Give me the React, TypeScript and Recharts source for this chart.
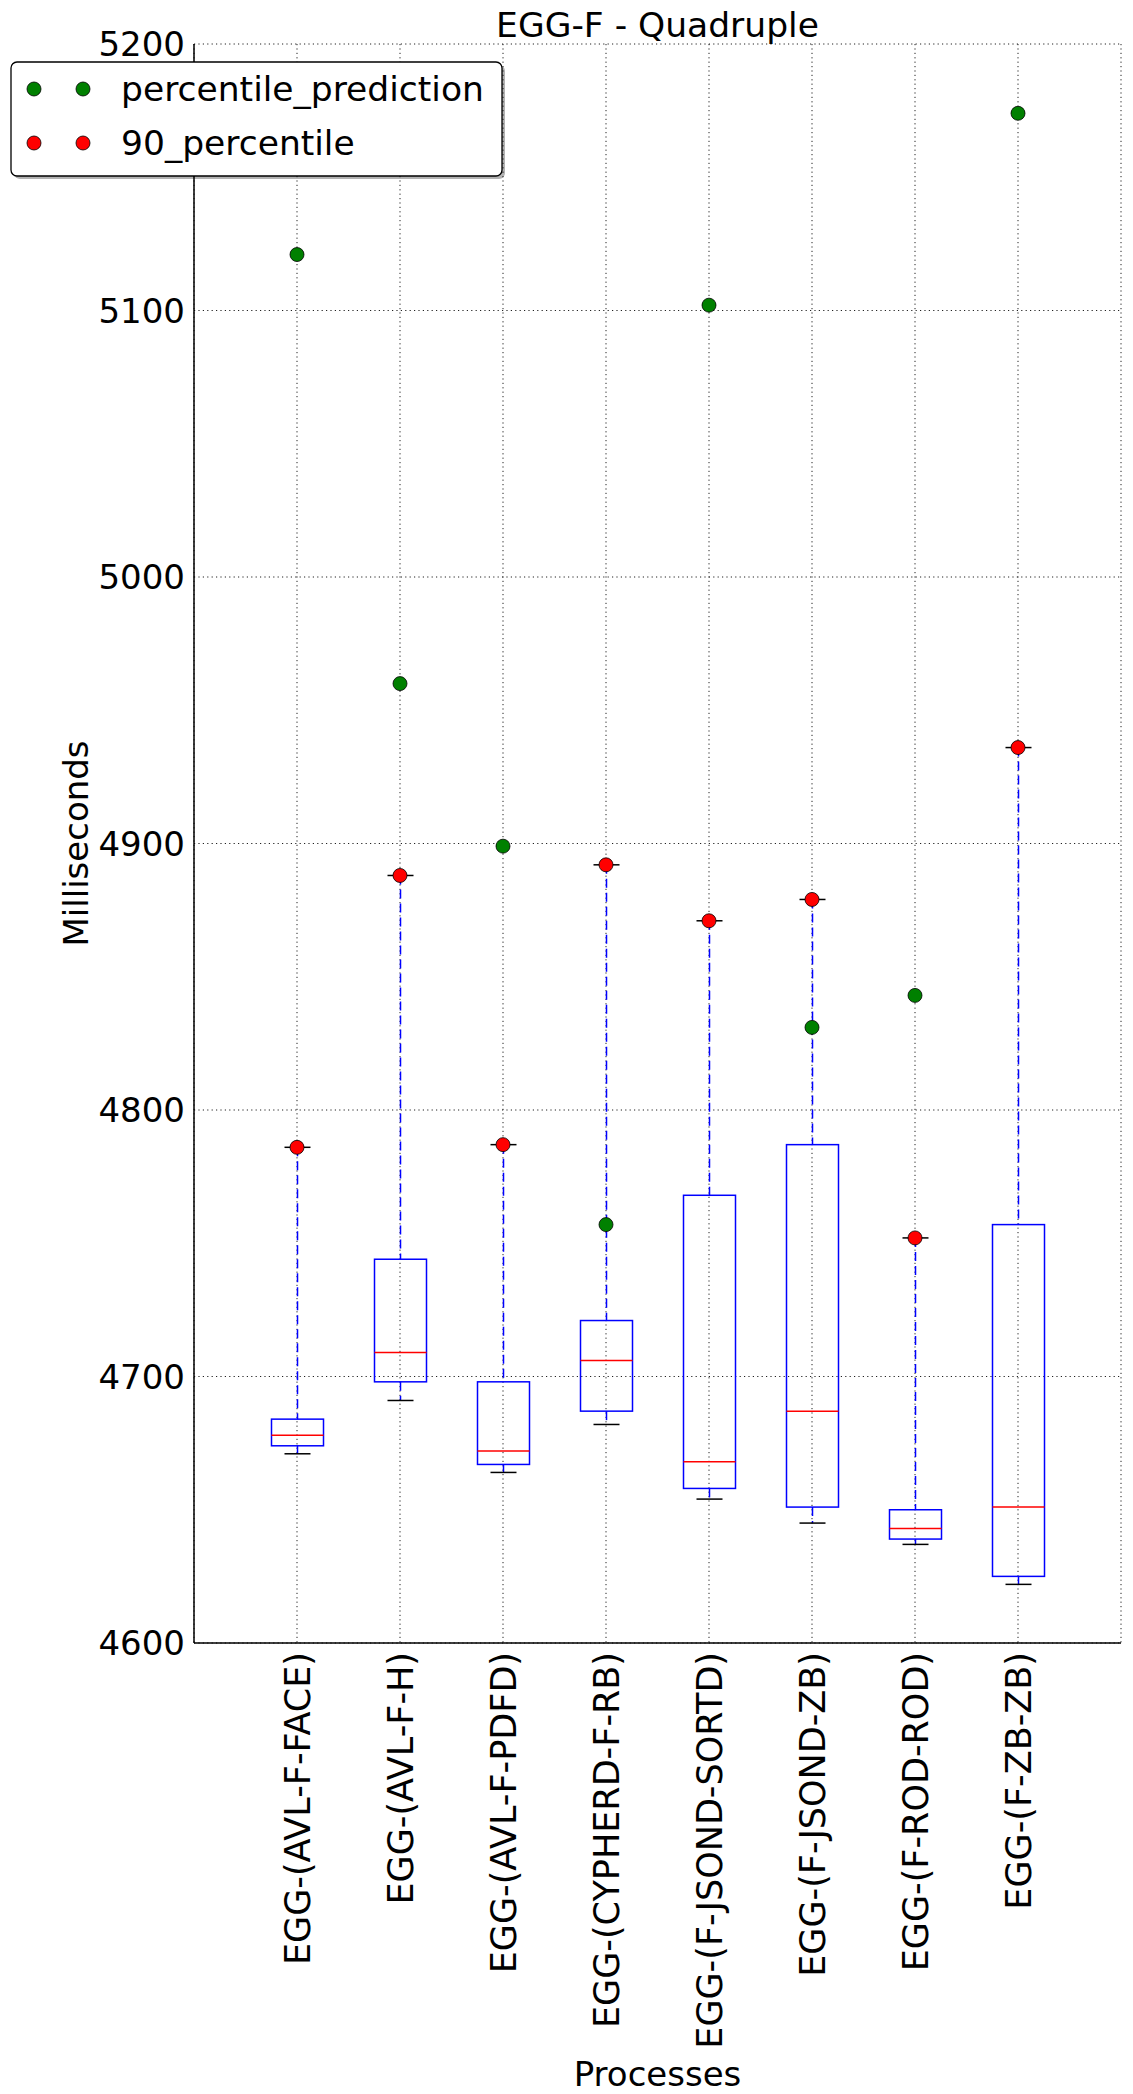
import React from 'react'
import { ComposedChart, Bar, Scatter, XAxis, YAxis, CartesianGrid } from 'recharts'

// values (milliseconds)
const processes = [
  'EGG-(AVL-F-FACE)',
  'EGG-(AVL-F-H)',
  'EGG-(AVL-F-PDFD)',
  'EGG-(CYPHERD-F-RB)',
  'EGG-(F-JSOND-SORTD)',
  'EGG-(F-JSOND-ZB)',
  'EGG-(F-ROD-ROD)',
  'EGG-(F-ZB-ZB)',
]
const whiskerLow = [4671, 4691, 4664, 4682, 4654, 4645, 4637, 4622]
const q1 = [4674, 4698, 4667, 4687, 4658, 4651, 4639, 4625]
const median = [4678, 4709, 4672, 4706, 4668, 4687, 4643, 4651]
const q3 = [4684, 4744, 4698, 4721, 4768, 4787, 4650, 4757]
const whiskerHigh = [4786, 4888, 4787, 4892, 4871, 4879, 4752, 4936]
const percentile90 = [4786, 4888, 4787, 4892, 4871, 4879, 4752, 4936]
const prediction = [5121, 4960, 4899, 4757, 5102, 4831, 4843, 5174]
const yTicks = [4600, 4700, 4800, 4900, 5000, 5100, 5200]

const FONT = '"DejaVu Sans", sans-serif'
const BLUE = '#0000ff'
const RED = '#ff0000'
const GREEN = '#008000'

const rows = processes.map((name, i) => ({
  name,
  lo: whiskerLow[i],
  q1: q1[i],
  med: median[i],
  q3: q3[i],
  hi: whiskerHigh[i],
  range: [whiskerLow[i], whiskerHigh[i]],
  p90: percentile90[i],
  pred: prediction[i],
}))

// one bar spans the whisker range; the rest of the box is placed inside it
function BoxShape(props: any) {
  const { x, y, width, height, payload } = props
  if (!payload || height == null) return null
  const top = Math.min(y, y + height)
  const h = Math.abs(height)
  const { lo, hi } = payload
  const py = (v: number) => top + ((hi - v) / (hi - lo)) * h
  const cx = x + width / 2
  const cap = width / 4
  return (
    <g>
      <line x1={cx} x2={cx} y1={py(hi)} y2={py(payload.q3)} stroke={BLUE} strokeWidth={1.5} strokeDasharray="9 5" />
      <line x1={cx} x2={cx} y1={py(payload.q1)} y2={py(lo)} stroke={BLUE} strokeWidth={1.5} strokeDasharray="9 5" />
      <line x1={cx - cap} x2={cx + cap} y1={py(hi)} y2={py(hi)} stroke="#000" strokeWidth={1.5} />
      <line x1={cx - cap} x2={cx + cap} y1={py(lo)} y2={py(lo)} stroke="#000" strokeWidth={1.5} />
      <rect x={x} y={py(payload.q3)} width={width} height={py(payload.q1) - py(payload.q3)} fill="none" stroke={BLUE} strokeWidth={1.5} />
      <line x1={x} x2={x + width} y1={py(payload.med)} y2={py(payload.med)} stroke={RED} strokeWidth={1.5} />
    </g>
  )
}

const Dot = (color: string) => (p: any) =>
  p.cx == null ? null : <circle cx={p.cx} cy={p.cy} r={7} fill={color} stroke="#000" strokeWidth={0.8} />

const ProcessTick = ({ x, y, payload }: any) => (
  <text
    x={x}
    y={y}
    transform={`rotate(-90, ${x}, ${y})`}
    textAnchor="end"
    dy="0.36em"
    fontSize={35}
    fontFamily={FONT}
    fill="#000"
  >
    {payload.value}
  </text>
)

export default function App() {
  return (
    <div style={{ position: 'absolute', left: 0, top: 0, width: 1133, height: 2094, background: '#fff', fontFamily: FONT }}>
      <ComposedChart width={1133} height={2094} data={rows} margin={{ top: 44, right: 12, bottom: 0, left: 44 }}>
        <CartesianGrid stroke="#222" strokeDasharray="1.2 3.2" strokeWidth={1} />
        <XAxis
          dataKey="name"
          type="category"
          height={451}
          padding={{ left: 51.5, right: 51.5 }}
          interval={0}
          tickLine={false}
          tickSize={6}
          tickMargin={3}
          tick={<ProcessTick />}
          axisLine={{ stroke: '#000', strokeWidth: 1.5 }}
          label={{ value: 'Processes', position: 'insideBottom', offset: 8, fontSize: 34, fontFamily: FONT, fill: '#000' }}
        />
        <XAxis
          xAxisId="top"
          dataKey="name"
          orientation="top"
          height={0}
          padding={{ left: 51.5, right: 51.5 }}
          interval={0}
          mirror
          tick={false}
          tickSize={6}
          tickLine={{ stroke: '#000' }}
          axisLine={{ stroke: '#000', strokeWidth: 1.5 }}
        />
        <YAxis
          type="number"
          width={150}
          domain={[4600, 5200]}
          ticks={yTicks}
          interval={0}
          allowDataOverflow
          tickLine={false}
          tickSize={6}
          tickMargin={3}
          tick={{ fontSize: 34, fontFamily: FONT, fill: '#000' }}
          axisLine={{ stroke: '#000', strokeWidth: 1.5 }}
          label={{
            value: 'Milliseconds',
            angle: -90,
            position: 'insideLeft',
            offset: 32,
            fontSize: 34,
            fontFamily: FONT,
            fill: '#000',
            style: { textAnchor: 'middle' },
          }}
        />
        <YAxis
          yAxisId="right"
          orientation="right"
          type="number"
          width={0}
          domain={[4600, 5200]}
          ticks={yTicks}
          interval={0}
          allowDataOverflow
          mirror
          tick={false}
          tickSize={6}
          tickLine={{ stroke: '#000' }}
          axisLine={{ stroke: '#000', strokeWidth: 1.5 }}
        />
        <Bar dataKey="range" barSize={52} shape={<BoxShape />} isAnimationActive={false} />
        <Scatter dataKey="p90" shape={Dot(RED)} isAnimationActive={false} />
        <Scatter dataKey="pred" shape={Dot(GREEN)} isAnimationActive={false} />
      </ComposedChart>

      <svg width={1133} height={2094} style={{ position: 'absolute', left: 0, top: 0, pointerEvents: 'none' }}>
        <text x={657.5} y={37} textAnchor="middle" fontSize={34.5} fontFamily={FONT} fill="#000">
          EGG-F - Quadruple
        </text>
        <rect x={14} y={65} width={491} height={114} rx={6} fill="#000" opacity={0.3} />
        <rect x={11} y={62} width={491} height={114} rx={6} fill="#fff" stroke="#000" strokeWidth={1.3} />
        <circle cx={34} cy={89} r={7} fill={GREEN} stroke="#000" strokeWidth={0.8} />
        <circle cx={83} cy={89} r={7} fill={GREEN} stroke="#000" strokeWidth={0.8} />
        <text x={121} y={101} fontSize={34.5} fontFamily={FONT} fill="#000">percentile_prediction</text>
        <circle cx={34} cy={143} r={7} fill={RED} stroke="#000" strokeWidth={0.8} />
        <circle cx={83} cy={143} r={7} fill={RED} stroke="#000" strokeWidth={0.8} />
        <text x={121} y={155} fontSize={34.5} fontFamily={FONT} fill="#000">90_percentile</text>
      </svg>
    </div>
  )
}
